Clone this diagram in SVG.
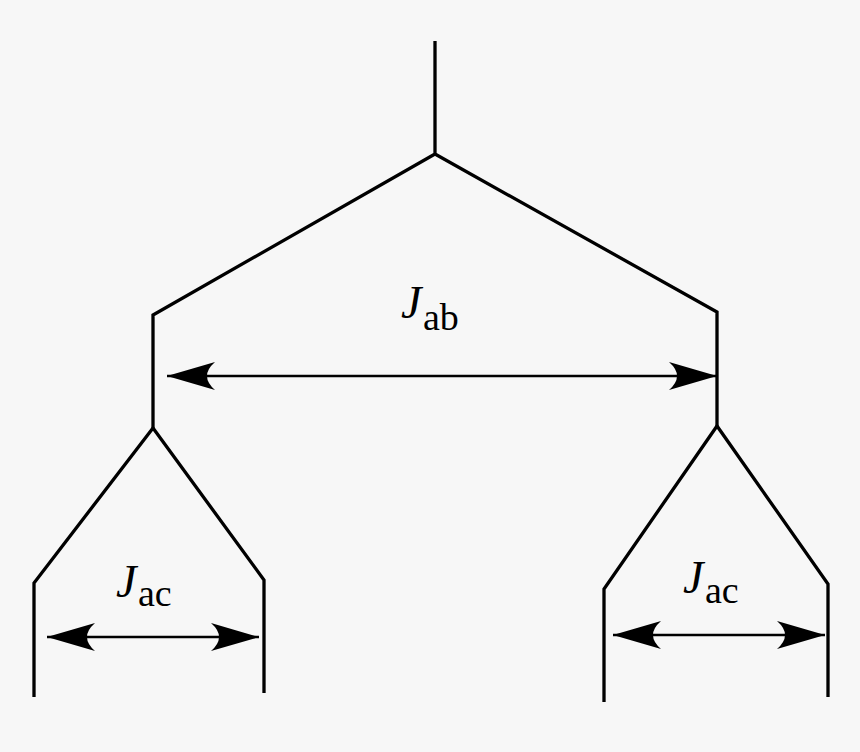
<svg xmlns="http://www.w3.org/2000/svg" width="860" height="752" viewBox="0 0 860 752">
<style>
.br{fill:none;stroke:#000;stroke-width:3.3;stroke-linejoin:miter}
.dim{fill:none;stroke:#000;stroke-width:2.6}
.J{font-family:"Liberation Serif",serif;font-style:italic;font-size:46px;fill:#000}
.s{font-family:"Liberation Serif",serif;font-size:38px;fill:#000}
</style>
<defs>
<marker id="ah" markerUnits="userSpaceOnUse" markerWidth="50" markerHeight="32" viewBox="-50 -16 50 32" refX="0" refY="0" orient="auto-start-reverse">
<path d="M0,0 L-48,-14 Q-32,0 -48,14 Z" fill="#000"/>
</marker>
</defs>
<rect width="860" height="752" fill="#f7f7f7"/>
<g id="root"><path class="br" d="M435,41 V154 L153,315 V428 M435,154 L717,312 V426"/></g>
<g id="left"><path class="br" d="M34,697 V583 L153,428 L264,580 V693"/></g>
<g id="right"><path class="br" d="M604,702 V589 L717,426 L828,584 V697"/></g>
<g id="connectors">
<line class="dim" x1="167" y1="376" x2="717" y2="376" marker-start="url(#ah)" marker-end="url(#ah)"/>
<line class="dim" x1="47" y1="637" x2="259" y2="637" marker-start="url(#ah)" marker-end="url(#ah)"/>
<line class="dim" x1="613" y1="635" x2="825" y2="635" marker-start="url(#ah)" marker-end="url(#ah)"/>
</g>
<g id="lab-ab"><text x="401" y="318" class="J">J</text><text x="423" y="330" class="s">ab</text></g>
<g id="lab-ac1"><text x="116" y="597" class="J">J</text><text x="138" y="606" class="s">ac</text></g>
<g id="lab-ac2"><text x="683" y="593" class="J">J</text><text x="705" y="603" class="s">ac</text></g>
</svg>
